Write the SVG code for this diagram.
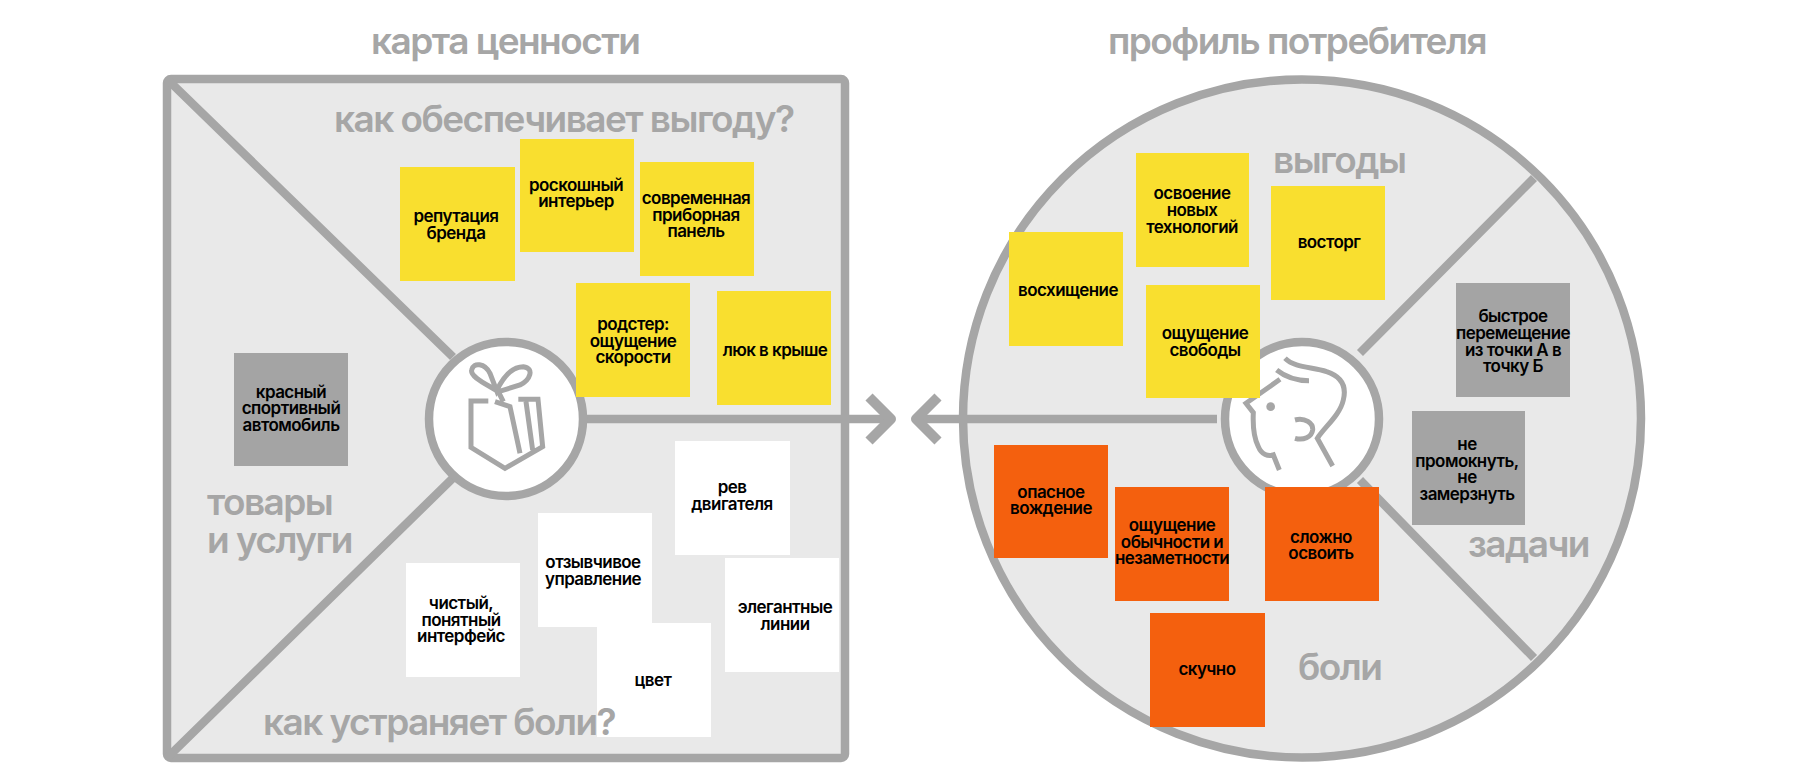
<svg xmlns="http://www.w3.org/2000/svg" width="1800" height="780" viewBox="0 0 1800 780">
<style>
.s{stroke:#a6a6a6;stroke-width:8.5;fill:none}
.i{fill:none;stroke:#a6a6a6;stroke-width:15;stroke-linejoin:miter}
.h{font-family:Inter,"Liberation Sans",Arial,sans-serif;font-weight:600;fill:#a6a6a6;font-size:37px;letter-spacing:-1.55px}
.n{font-family:Inter,"Liberation Sans",Arial,sans-serif;font-weight:600;fill:#000;font-size:17px;text-anchor:middle;letter-spacing:-.55px}
.y{fill:#f9df2f}.o{fill:#f4600e}.g{fill:#a4a4a4}.w{fill:#fff}
</style>
<rect width="1800" height="780" fill="#fff"/>
<g id="connectors">
<rect x="167" y="79" width="678" height="679" rx="4" class="s" style="fill:#e9e9e9"/>
<circle cx="1302" cy="418.500" r="339" class="s" style="fill:#e9e9e9"/>
<path class="s" d="M167 79L453 357M167 758L453 478M587 419H888M1217 419H918M1360 353L1534 178M1360 480L1534 658"/>
<path class="s" style="stroke-width:10;stroke-linejoin:round" d="M869 397L891 419L869 441M938 397L916 419L938 441"/>
</g>
<g id="value-hub"><circle cx="506" cy="419" r="77" class="s" style="fill:#fff"/>
<g transform="translate(420 340) scale(.3333)"><path class="i" d="M205 183H153V322L255 385L368 320L354 178H295M225 185L270 200L300 340M318 185L338 330M235 155C195 130 150 110 155 90C160 65 195 70 210 100L230 152C250 110 275 80 310 80C345 85 330 120 300 135L235 155L250 185"/></g></g>
<g id="customer-hub"><circle cx="1302" cy="419" r="77" class="s" style="fill:#fff"/>
<g transform="translate(1210 340) scale(.3333)"><path class="i" d="M225 55C255 85 310 80 350 95C395 110 410 140 400 180C390 225 345 260 322 295L368 378M200 90C225 110 255 122 297 122M210 118L108 190L130 218C128 260 130 290 145 320C155 345 175 350 190 345L208 390M255 240C285 232 310 250 308 270C305 292 280 302 255 295"/><circle cx="182" cy="200" r="13" fill="#a6a6a6"/></g></g>
<g id="n1"><rect class="y" x="400" y="167" width="115" height="114"/><text class="n" x="456"><tspan x="456" y="222">репутация</tspan><tspan x="456" y="239">бренда</tspan></text></g>
<g id="n2"><rect class="y" x="520" y="139" width="114" height="113"/><text class="n"><tspan x="576" y="191">роскошный</tspan><tspan x="576" y="207">интерьер</tspan></text></g>
<g id="n3"><rect class="y" x="640" y="162" width="114" height="114"/><text class="n"><tspan x="696" y="204">современная</tspan><tspan x="696" y="221">приборная</tspan><tspan x="696" y="237">панель</tspan></text></g>
<g id="n4"><rect class="y" x="576" y="283" width="114" height="114"/><text class="n"><tspan x="633" y="330">родстер:</tspan><tspan x="633" y="347">ощущение</tspan><tspan x="633" y="363">скорости</tspan></text></g>
<g id="n5"><rect class="y" x="717" y="291" width="114" height="114"/><text class="n" x="775" y="356">люк в крыше</text></g>
<g id="n6"><rect class="g" x="234" y="353" width="114" height="113"/><text class="n"><tspan x="291" y="398">красный</tspan><tspan x="291" y="414">спортивный</tspan><tspan x="291" y="431">автомобиль</tspan></text></g>
<g id="n7"><rect class="w" x="675" y="441" width="115" height="114"/><text class="n"><tspan x="732" y="493">рев</tspan><tspan x="732" y="510">двигателя</tspan></text></g>
<g id="n8"><rect class="w" x="538" y="513" width="114" height="114"/><text class="n"><tspan x="593" y="568">отзывчивое</tspan><tspan x="593" y="585">управление</tspan></text></g>
<g id="n9"><rect class="w" x="406" y="563" width="114" height="114"/><text class="n"><tspan x="461" y="609">чистый,</tspan><tspan x="461" y="626">понятный</tspan><tspan x="461" y="642">интерфейс</tspan></text></g>
<g id="n10"><rect class="w" x="725" y="558" width="114" height="114"/><text class="n"><tspan x="785" y="613">элегантные</tspan><tspan x="785" y="630">линии</tspan></text></g>
<g id="n11"><rect class="w" x="597" y="623" width="114" height="114"/><text class="n" x="653" y="686">цвет</text></g>
<g id="n12"><rect class="y" x="1136" y="153" width="113" height="114"/><text class="n"><tspan x="1192" y="199">освоение</tspan><tspan x="1192" y="216">новых</tspan><tspan x="1192" y="233">технологий</tspan></text></g>
<g id="n13"><rect class="y" x="1271" y="186" width="114" height="114"/><text class="n" x="1329" y="248">восторг</text></g>
<g id="n14"><rect class="y" x="1009" y="232" width="114" height="114"/><text class="n" x="1068" y="296">восхищение</text></g>
<g id="n15"><rect class="y" x="1146" y="285" width="114" height="113"/><text class="n"><tspan x="1205" y="339">ощущение</tspan><tspan x="1205" y="356">свободы</tspan></text></g>
<g id="n16"><rect class="g" x="1456" y="283" width="114" height="114"/><text class="n"><tspan x="1513" y="322">быстрое</tspan><tspan x="1513" y="339">перемещение</tspan><tspan x="1513" y="356">из точки А в</tspan><tspan x="1513" y="372">точку Б</tspan></text></g>
<g id="n17"><rect class="g" x="1412" y="411" width="113" height="114"/><text class="n"><tspan x="1467" y="450">не</tspan><tspan x="1467" y="467">промокнуть,</tspan><tspan x="1467" y="483">не</tspan><tspan x="1467" y="500">замерзнуть</tspan></text></g>
<g id="n18"><rect class="o" x="994" y="445" width="114" height="113"/><text class="n"><tspan x="1051" y="498">опасное</tspan><tspan x="1051" y="514">вождение</tspan></text></g>
<g id="n19"><rect class="o" x="1115" y="487" width="114" height="114"/><text class="n"><tspan x="1172" y="531">ощущение</tspan><tspan x="1172" y="548">обычности и</tspan><tspan x="1172" y="564">незаметности</tspan></text></g>
<g id="n20"><rect class="o" x="1265" y="487" width="114" height="114"/><text class="n"><tspan x="1321" y="543">сложно</tspan><tspan x="1321" y="559">освоить</tspan></text></g>
<g id="n21"><rect class="o" x="1150" y="613" width="115" height="114"/><text class="n" x="1207" y="675">скучно</text></g>
<g id="labels">
<text class="h" x="371" y="54">карта ценности</text>
<text class="h" x="1108" y="54">профиль потребителя</text>
<text class="h" x="334" y="132">как обеспечивает выгоду?</text>
<text class="h" x="207" y="515">товары</text>
<text class="h" x="207" y="553">и услуги</text>
<text class="h" x="263" y="735">как устраняет боли?</text>
<text class="h" x="1273" y="173">выгоды</text>
<text class="h" x="1468" y="557">задачи</text>
<text class="h" x="1298" y="680">боли</text>
</g>
</svg>
